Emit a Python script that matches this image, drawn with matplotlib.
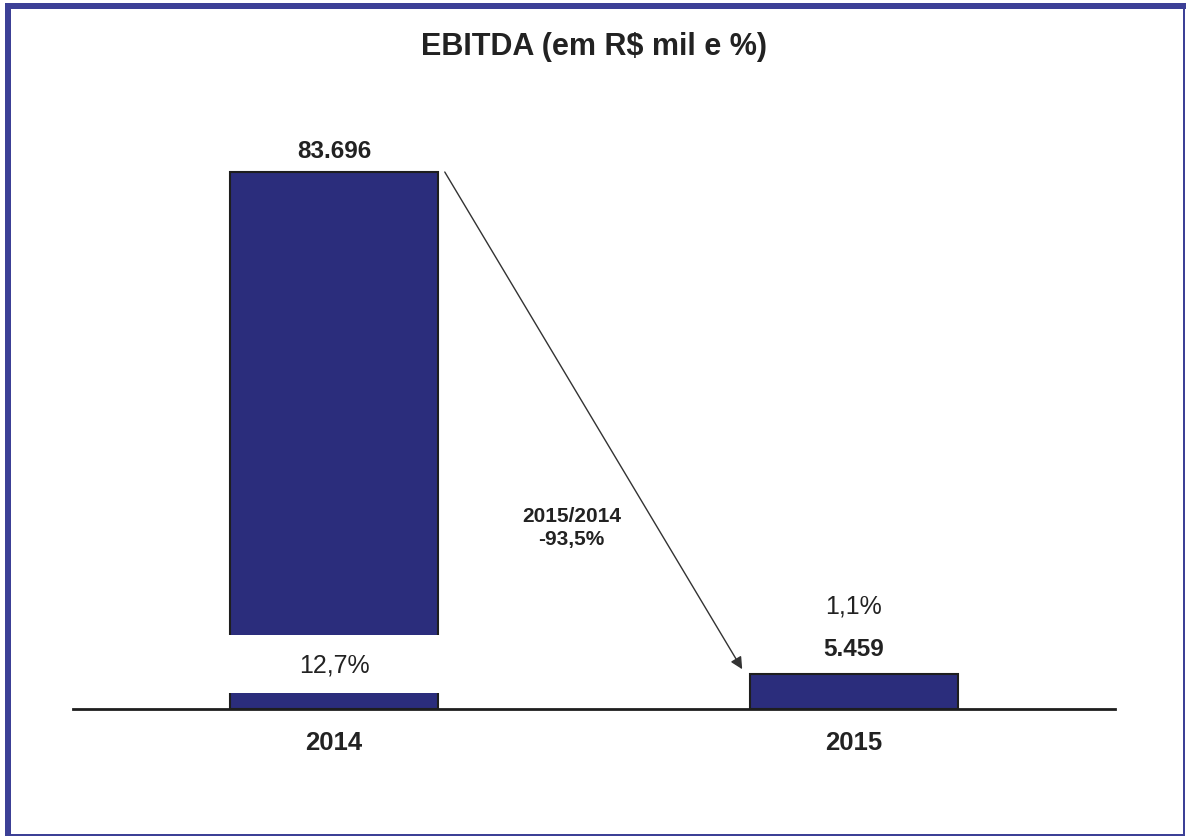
# EBITDA bar chart, 2014 vs 2015

import matplotlib.pyplot as plt
from matplotlib.patches import Rectangle

plt.rcParams['font.family'] = ['Liberation Sans', 'DejaVu Sans']

years = ['2014', '2015']
ebitda = [83696, 5459]
ebitda_labels = ['83.696', '5.459']
margin_labels = ['12,7%', '1,1%']
change_label = '2015/2014\n-93,5%'
title = 'EBITDA (em R$ mil e %)'

bar_color = '#2b2d7c'
frame_color = '#3c4096'
text_color = '#222222'

W, H = 1186, 837
fig = plt.figure(figsize=(W / 100, H / 100), dpi=100)
ax = fig.add_axes([73 / W, 127 / H, (1115 - 73) / W, (710 - 100) / H])

x = list(range(len(years)))
ax.bar(x, ebitda, width=0.4, color=bar_color, edgecolor='#1e1e1e', linewidth=1.5, zorder=2)

ax.set_xlim(-0.502, 1.502)
ax.set_ylim(0, ebitda[0] * 610 / 537)

# white break inside the 2014 bar that holds its margin label
ax.add_patch(Rectangle((x[0] - 0.21, 2500), 0.42, 9030, facecolor='white',
                       edgecolor='none', zorder=3))
ax.text(x[0], 6950, margin_labels[0], ha='center', va='center',
        fontsize=18, color=text_color, zorder=4)

# value labels
ax.text(x[0], ebitda[0] + 3300, ebitda_labels[0], ha='center', va='center',
        fontsize=17.5, fontweight='bold', color=text_color)
ax.text(x[1], ebitda[1] + 3900, ebitda_labels[1], ha='center', va='center',
        fontsize=17.5, fontweight='bold', color=text_color)
ax.text(x[1], ebitda[1] + 10600, margin_labels[1], ha='center', va='center',
        fontsize=18, color=text_color)

# change arrow
ax.annotate('', xy=(x[1] - 0.215, 6200), xytext=(x[0] + 0.213, ebitda[0]),
            arrowprops=dict(arrowstyle='-|>', color='#333333', lw=1.0,
                            mutation_scale=18, shrinkA=0, shrinkB=0))
ax.text(0.457, 28400, change_label, ha='center', va='center',
        fontsize=15, fontweight='bold', color=text_color, linespacing=1.3)

for s in ['top', 'right', 'left']:
    ax.spines[s].set_visible(False)
ax.spines['bottom'].set_linewidth(2)
ax.spines['bottom'].set_color('#1e1e1e')
ax.set_yticks([])
ax.set_xticks(x)
ax.set_xticklabels(years, fontsize=18.5, fontweight='bold', color=text_color)
ax.tick_params(axis='x', length=0, pad=15)

fig.text(594 / W, 1 - 47 / H, title, ha='center', va='center',
         fontsize=22, fontweight='bold', color=text_color)

# frame around the picture
for (x0, y0, w, h) in [(5, 0, 6, 833), (5, 827, 1181, 6),
                       (1183, 0, 2, 833), (5, 0, 1180, 2)]:
    fig.add_artist(Rectangle((x0 / W, y0 / H), w / W, h / H,
                             transform=fig.transFigure, facecolor=frame_color,
                             edgecolor='none'))

fig.savefig('out.png', dpi=100)
